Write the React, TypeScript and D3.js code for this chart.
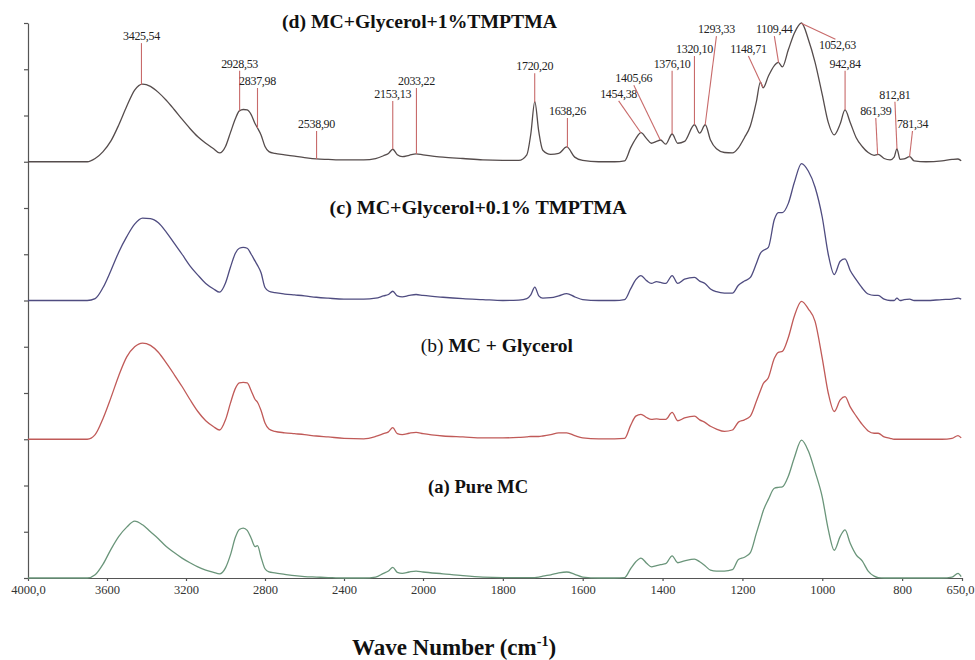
import React, { useEffect, useRef } from 'react';
import * as d3 from 'd3';

// wavenumber grid (cm-1), shared by the four spectra
const waveNumbers = [
  4000, 3800, 3700, 3660, 3620, 3580, 3540, 3500, 3460, 3420, 3380, 3340, 3300, 3260, 3220, 3180,
  3140, 3100, 3060, 3030, 3000, 2975, 2950, 2930, 2910, 2890, 2870, 2850, 2838, 2820, 2800, 2780,
  2750, 2700, 2650, 2600, 2540, 2480, 2400, 2300, 2240, 2200, 2175, 2153, 2130, 2105, 2070, 2035,
  2000, 1950, 1900, 1850, 1800, 1760, 1740, 1730, 1720, 1710, 1700, 1680, 1660, 1640, 1620, 1600,
  1560, 1520, 1495, 1480, 1467, 1454, 1440, 1428, 1415, 1405, 1392, 1376, 1362, 1345, 1320, 1307,
  1293, 1280, 1265, 1245, 1225, 1210, 1195, 1180, 1165, 1155, 1148, 1135, 1120, 1110, 1100, 1085,
  1070, 1052, 1035, 1018, 1000, 985, 970, 955, 943, 930, 915, 900, 885, 870, 860, 845,
  830, 820, 813, 805, 795, 781, 770, 740, 700, 675, 660, 652,
];

const pureMC = [
  0, 0, 0, 0.07, 0.3, 0.62, 0.9, 1.1, 1.23, 1.15, 1.0, 0.85, 0.68, 0.55, 0.43, 0.33,
  0.24, 0.17, 0.12, 0.09, 0.22, 0.5, 0.88, 1.05, 1.08, 1.03, 0.86, 0.68, 0.7, 0.45, 0.2, 0.13,
  0.11, 0.08, 0.05, 0.03, 0.02, 0.01, 0, 0, 0.02, 0.1, 0.15, 0.23, 0.12, 0.1, 0.13, 0.15,
  0.13, 0.09, 0.05, 0.02, 0.01, 0.01, 0.01, 0.01, 0.01, 0.02, 0.04, 0.07, 0.11, 0.13, 0.08, 0.02,
  0, 0, 0.01, 0.2, 0.35, 0.43, 0.32, 0.24, 0.27, 0.29, 0.31, 0.48, 0.33, 0.37, 0.41, 0.35,
  0.26, 0.17, 0.15, 0.15, 0.18, 0.4, 0.45, 0.55, 0.97, 1.25, 1.45, 1.7, 1.94, 1.96, 1.97, 2.2,
  2.6, 2.98, 2.75, 2.3, 1.75, 1.05, 0.6, 0.9, 1.04, 0.75, 0.5, 0.37, 0.15, 0.04, 0.01, 0,
  0, 0, 0, 0, 0, 0, 0, 0, 0, 0.02, 0.1, 0.03,
];

const mcGlycerol = [
  0, 0, 0, 0.1, 0.45, 0.9, 1.38, 1.78, 2.0, 2.08, 2.03, 1.88, 1.65, 1.4, 1.14, 0.86,
  0.6, 0.4, 0.27, 0.2, 0.42, 0.78, 1.1, 1.22, 1.23, 1.22, 1.05, 0.86, 0.8, 0.62, 0.35, 0.22,
  0.17, 0.14, 0.12, 0.1, 0.07, 0.05, 0.02, 0.01, 0.06, 0.12, 0.16, 0.25, 0.12, 0.1, 0.13, 0.15,
  0.12, 0.07, 0.05, 0.03, 0.03, 0.04, 0.05, 0.06, 0.06, 0.06, 0.07, 0.1, 0.14, 0.14, 0.08, 0.03,
  0.01, 0.01, 0.02, 0.3, 0.5, 0.54, 0.47, 0.43, 0.44, 0.43, 0.43, 0.58, 0.4, 0.46, 0.5, 0.42,
  0.36, 0.28, 0.22, 0.17, 0.2, 0.37, 0.42, 0.5, 0.82, 1.05, 1.2, 1.33, 1.75, 1.88, 1.9, 2.2,
  2.66, 2.98, 2.82, 2.55, 1.75, 1.0, 0.6, 0.85, 0.92, 0.7, 0.5, 0.32, 0.18, 0.13, 0.13, 0.05,
  0.02, 0, 0, 0, 0, 0, 0, 0, 0, 0.02, 0.08, 0.03,
];

const mcGlycerolTmptma01 = [
  0, 0, 0, 0.04, 0.28, 0.65, 1.05, 1.38, 1.65, 1.78, 1.77, 1.68, 1.48, 1.24, 1.0, 0.75,
  0.55, 0.37, 0.25, 0.18, 0.38, 0.72, 1.02, 1.13, 1.15, 1.13, 1.0, 0.85, 0.76, 0.6, 0.28, 0.2,
  0.17, 0.14, 0.12, 0.1, 0.07, 0.05, 0.03, 0.03, 0.05, 0.1, 0.13, 0.2, 0.1, 0.08, 0.11, 0.13,
  0.11, 0.07, 0.04, 0.02, 0, 0.01, 0.04, 0.12, 0.29, 0.1, 0.05, 0.06, 0.1, 0.15, 0.08, 0.02,
  0, 0, 0.02, 0.25, 0.45, 0.54, 0.43, 0.37, 0.41, 0.39, 0.37, 0.54, 0.37, 0.46, 0.5, 0.42,
  0.36, 0.25, 0.19, 0.16, 0.16, 0.33, 0.42, 0.5, 0.8, 1.02, 1.08, 1.15, 1.75, 1.9, 1.9, 2.1,
  2.55, 2.96, 2.8, 2.45, 1.8, 1.0, 0.56, 0.85, 0.9, 0.65, 0.45, 0.27, 0.14, 0.11, 0.11, 0.03,
  0, 0, 0.05, 0, 0.02, 0.03, 0, 0, 0.02, 0.03, 0.05, 0.03,
];

const mcGlycerolTmptma1 = [
  0, 0, 0, 0.07, 0.22, 0.45, 0.8, 1.2, 1.55, 1.68, 1.63, 1.5, 1.33, 1.13, 0.92, 0.72,
  0.54, 0.4, 0.28, 0.19, 0.33, 0.63, 0.93, 1.1, 1.13, 1.12, 1.02, 0.82, 0.73, 0.58, 0.33, 0.22,
  0.18, 0.15, 0.12, 0.09, 0.06, 0.05, 0.04, 0.04, 0.07, 0.13, 0.18, 0.27, 0.15, 0.11, 0.14, 0.17,
  0.15, 0.1, 0.07, 0.04, 0.03, 0.03, 0.15, 0.6, 1.3, 0.65, 0.25, 0.16, 0.18, 0.32, 0.1, 0.03,
  0, 0, 0.02, 0.3, 0.5, 0.63, 0.5, 0.4, 0.44, 0.47, 0.38, 0.6, 0.4, 0.44, 0.8, 0.62,
  0.8, 0.47, 0.28, 0.2, 0.19, 0.3, 0.52, 0.78, 1.3, 1.72, 1.6, 1.85, 2.08, 2.15, 2.05, 2.42,
  2.78, 3.0, 2.65, 2.15, 1.45, 0.85, 0.58, 0.82, 1.12, 0.85, 0.52, 0.33, 0.2, 0.14, 0.16, 0.07,
  0.04, 0.1, 0.28, 0.05, 0.06, 0.11, 0.02, 0, 0.02, 0.05, 0.06, 0.02,
];

const spectra = [pureMC, mcGlycerol, mcGlycerolTmptma01, mcGlycerolTmptma1];
const seriesOffsets = [0, 3, 6, 9];
const seriesColors = ['#6a957a', '#c05a58', '#4f4c80', '#554c4c'];

// series titles: [prefix, bold text]
const seriesPrefixes = ['(a) ', '(b) ', '(c)  ', '(d) '];
const seriesTitles = ['Pure MC', 'MC + Glycerol', 'MC+Glycerol+0.1% TMPTMA', 'MC+Glycerol+1%TMPTMA'];
const titleWaves = [1862, 1815, 1862, 2018];
const titleLevels = [1.84, 4.89, 7.87, 11.89];
const titleWidths = [100, 152, 297, 275];

const xTicks = [4000, 3600, 3200, 2800, 2400, 2000, 1800, 1600, 1400, 1200, 1000, 800, 650];
const xTickLabels = ['4000,0', '3600', '3200', '2800', '2400', '2000', '1800', '1600', '1400', '1200', '1000', '800', '650,0'];

// peak picks on spectrum (d)
const peakWaves = [
  3425.54, 2928.53, 2837.98, 2538.9, 2153.13, 2033.22, 1720.2, 1638.26, 1454.38, 1405.66,
  1376.1, 1320.1, 1293.33, 1148.71, 1109.44, 1052.63, 942.84, 861.39, 812.81, 781.34,
];
const peakLabelWaves = [
  3425.54, 2928.53, 2837.98, 2538.9, 2153.13, 2033.22, 1720.2, 1638.26, 1510, 1472,
  1376.1, 1320.1, 1265, 1185, 1120, 962, 942.84, 866, 818, 774,
];
const peakLabelLevels = [
  11.63, 11.03, 10.66, 9.73, 10.38, 10.66, 10.98, 10.01, 10.38, 10.72,
  11.03, 11.35, 11.78, 11.35, 11.78, 11.43, 11.03, 10.01, 10.36, 9.73,
];

const App = () => {
  const svgRef = useRef(null);

  useEffect(() => {
    const width = 975;
    const height = 660;
    const svg = d3.select(svgRef.current);
    svg.selectAll('*').remove(); // Clear previous content
    svg.attr('width', width).attr('height', height);

    svg.append('rect').attr('width', width).attr('height', height).attr('fill', '#fff');

    // spectrometer scale doubles below 2000 cm-1
    const x = d3.scaleLinear().domain([4000, 2000, 650]).range([28, 423, 962]);
    const y = d3.scaleLinear().domain([0, 12]).range([578, 23]);

    const serif = '"Liberation Serif", "Times New Roman", serif';

    // axes
    const xAxis = svg.append('g')
      .attr('transform', 'translate(0,578)')
      .call(d3.axisBottom(x).tickValues(xTicks).tickFormat((d, i) => xTickLabels[i]).tickSize(3).tickSizeOuter(0));
    xAxis.selectAll('path, line').attr('stroke', '#555').attr('stroke-width', 1.2);
    xAxis.selectAll('text')
      .attr('font-family', serif)
      .attr('font-size', 12.5)
      .attr('fill', '#333')
      .attr('y', 7);
    // last label sits against the right edge
    xAxis.selectAll('.tick').filter(d => d === 650).select('text')
      .attr('text-anchor', 'end')
      .attr('x', 974 - x(650));

    const yAxis = svg.append('g')
      .attr('transform', 'translate(28,0)')
      .call(d3.axisLeft(y).tickValues(d3.range(0, 13)).tickFormat(() => '').tickSize(4).tickSizeOuter(0));
    yAxis.selectAll('path, line').attr('stroke', '#555').attr('stroke-width', 1.2);

    // spectra
    spectra.forEach((values, s) => {
      const line = d3.line()
        .x((d, i) => x(waveNumbers[i]))
        .y(d => y(d + seriesOffsets[s]))
        .curve(d3.curveMonotoneX);
      svg.append('path')
        .datum(values)
        .attr('fill', 'none')
        .attr('stroke', seriesColors[s])
        .attr('stroke-width', 1.3)
        .attr('stroke-linejoin', 'round')
        .attr('d', line);
    });

    // series titles
    seriesTitles.forEach((title, s) => {
      const t = svg.append('text')
        .attr('x', x(titleWaves[s]))
        .attr('y', y(titleLevels[s]))
        .attr('text-anchor', 'middle')
        .attr('font-family', serif)
        .attr('font-size', 19)
        .attr('fill', '#111')
        .attr('textLength', titleWidths[s])
        .attr('lengthAdjust', 'spacingAndGlyphs');
      t.append('tspan').attr('font-weight', s === 1 ? 'normal' : 'bold').text(seriesPrefixes[s]);
      t.append('tspan').attr('font-weight', 'bold').text(title);
    });

    // peak annotations on (d)
    const top = mcGlycerolTmptma1;
    const curveAt = d3.scaleLinear().domain(waveNumbers).range(top);
    const ann = svg.append('g');
    peakWaves.forEach((w, i) => {
      const lx = x(peakLabelWaves[i]);
      const ly = y(peakLabelLevels[i]);
      const px = x(w);
      const py = y(curveAt(w) + seriesOffsets[3]);
      const below = ly > py;
      ann.append('line')
        .attr('x1', below ? lx - 2 : lx)
        .attr('y1', below ? ly - 10 : ly + 3)
        .attr('x2', px)
        .attr('y2', py)
        .attr('stroke', '#c86a6a')
        .attr('stroke-width', 1.1);
      ann.append('text')
        .attr('x', lx)
        .attr('y', ly)
        .attr('text-anchor', 'middle')
        .attr('font-family', serif)
        .attr('font-size', 12)
        .attr('letter-spacing', -0.3)
        .attr('fill', '#222')
        .text(w.toFixed(2).replace('.', ','));
    });

    // axis title
    const title = svg.append('text')
      .attr('x', 454)
      .attr('y', 655)
      .attr('text-anchor', 'middle')
      .attr('font-family', serif)
      .attr('font-weight', 'bold')
      .attr('font-size', 23)
      .attr('fill', '#111');
    title.append('tspan').text('Wave Number (cm');
    title.append('tspan').attr('font-size', 14).attr('dy', -9).text('-1');
    title.append('tspan').attr('dy', 9).text(')');
  }, []);

  return <svg ref={svgRef} style={{ position: 'absolute', left: 0, top: 0 }}></svg>;
};

export default App;
